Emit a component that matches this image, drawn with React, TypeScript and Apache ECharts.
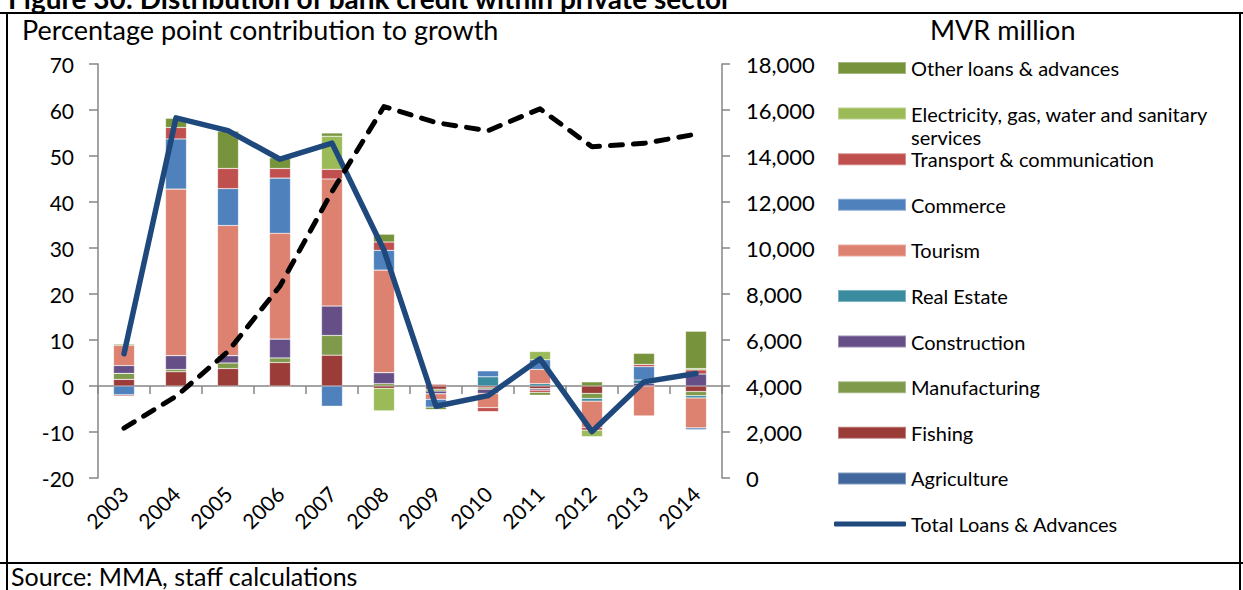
import React, { useEffect, useRef } from 'react';
import * as echarts from 'echarts';

const years = ['2003', '2004', '2005', '2006', '2007', '2008', '2009', '2010', '2011', '2012', '2013', '2014'];

// Percentage point contribution to growth (left axis)
const agriculture = [0, 0, 0, 0, 0, 0, 0, 0, 0, 0, 0, 0];
const fishing = [1.45, 3.1, 3.8, 5.1, 6.7, -0.5, -0.7, -0.4, -0.6, -1.6, 0, -1.2];
const manufacturing = [1.3, 0.5, 1.2, 1.0, 4.3, 0.5, -0.4, -0.3, 0, -1.1, 0, -0.9];
const construction = [1.7, 3.0, 1.6, 4.1, 6.4, 2.4, -0.6, -0.9, -0.3, 0, 0.6, 2.6];
const realEstate = [0, 0, 0, 0, 0, 0, 0, 2.0, 0.5, -0.6, 0.7, -0.5];
const tourism = [4.35, 36.2, 28.3, 23.0, 27.6, 22.3, -1.2, -3.1, 3.1, -5.7, -6.5, -6.5];
const commerce = [-1.9, 10.9, 8.0, 12.0, -4.4, 4.3, -1.7, 1.3, 2.1, 0, 2.9, -0.4];
const transport = [-0.3, 2.5, 4.4, 2.1, 2.1, 1.8, 0.4, -0.9, -0.5, -0.6, 0.5, 0.9];
const electricity = [0, 0, 0, 0, 7.2, -4.9, 0, 0, 1.8, -1.4, 0, 0.3];
const otherLoans = [0.3, 2.0, 8.1, 2.3, 0.7, 1.7, -0.5, 0, -0.6, 0.9, 2.4, 8.1];
const totalGrowth = [7.0, 58.3, 55.5, 49.3, 52.8, 29.5, -4.4, -2.1, 5.9, -9.9, 0.9, 2.7];

// Total loans & advances level, MVR million (right axis)
const totalLevel = [2170, 3550, 5500, 8350, 12450, 16150, 15450, 15100, 16050, 14400, 14550, 14950];

const leftMin = -20;
const leftMax = 70;
const leftStep = 10;
const rightMin = 0;
const rightMax = 18000;
const rightStep = 2000;

const barSeries = [
  { name: 'Agriculture', data: agriculture, color: '#41679D' },
  { name: 'Fishing', data: fishing, color: '#9B3C39' },
  { name: 'Manufacturing', data: manufacturing, color: '#7E9A4A' },
  { name: 'Construction', data: construction, color: '#664F87' },
  { name: 'Real Estate', data: realEstate, color: '#3A8AA0' },
  { name: 'Tourism', data: tourism, color: '#DD8170' },
  { name: 'Commerce', data: commerce, color: '#4F81BD' },
  { name: 'Transport & communication', data: transport, color: '#C0504D' },
  { name: 'Electricity, gas, water and sanitary services', data: electricity, color: '#9BBB59' },
  { name: 'Other loans & advances', data: otherLoans, color: '#77933C' },
];

const TOTAL_NAME = 'Total Loans & Advances';
const legendOrder = [
  'Other loans & advances',
  'Electricity, gas, water and sanitary services',
  'Transport & communication',
  'Commerce',
  'Tourism',
  'Real Estate',
  'Construction',
  'Manufacturing',
  'Fishing',
  'Agriculture',
  TOTAL_NAME,
];

const FONT = 'Lato';

export default function App() {
  const ref = useRef<HTMLDivElement>(null);

  useEffect(() => {
    if (!ref.current) return;
    const chart = echarts.init(ref.current, undefined, { renderer: 'svg' });

    const elecLine = 23;
    const legends = legendOrder.map((name, i) => {
      const centerY = 68 + i * 45.6;
      const isTotal = name === TOTAL_NAME;
      const isElec = name.startsWith('Electricity');
      return {
        show: true,
        selectedMode: false,
        orient: 'vertical',
        left: isTotal ? 834 : 837,
        top: isElec ? centerY - elecLine * 1.5 : centerY - 10,
        padding: 0,
        itemWidth: isTotal ? 72 : 68,
        itemHeight: isTotal ? 5 : 12,
        icon: isTotal ? 'roundRect' : 'rect',
        data: [name],
        formatter: isElec ? () => ' \nElectricity, gas, water and sanitary\nservices' : undefined,
        textStyle: isElec
          ? { fontFamily: FONT, fontSize: 20, color: '#000', lineHeight: elecLine }
          : { fontFamily: FONT, fontSize: 20, color: '#000', lineHeight: 20 },
      };
    });

    const option: any = {
      animation: false,
      backgroundColor: '#fff',
      textStyle: { fontFamily: FONT },
      grid: { left: 98, right: 1243 - 722, top: 64, bottom: 590 - 478, containLabel: false },
      legend: legends,
      xAxis: [
        {
          type: 'category',
          data: years,
          boundaryGap: true,
          axisLine: { show: true, onZero: true, onZeroAxisIndex: 0, lineStyle: { color: '#868686', width: 1.5 } },
          axisTick: { show: true, inside: false, length: 8, lineStyle: { color: '#868686', width: 1.5 } },
          axisLabel: { show: false },
          splitLine: { show: false },
        },
        {
          type: 'category',
          data: years,
          position: 'bottom',
          boundaryGap: true,
          axisLine: { show: false, onZero: false },
          axisTick: { show: false },
          axisLabel: { show: true, rotate: 45, margin: 12, fontSize: 21, color: '#000', fontFamily: FONT },
          splitLine: { show: false },
        },
      ],
      yAxis: [
        {
          type: 'value',
          position: 'left',
          min: leftMin,
          max: leftMax,
          interval: leftStep,
          axisLine: { show: true, lineStyle: { color: '#868686', width: 1.5 } },
          axisTick: { show: true, inside: false, length: 9, lineStyle: { color: '#868686', width: 1.5 } },
          axisLabel: { fontSize: 21, color: '#000', margin: 24, fontFamily: FONT },
          splitLine: { show: false },
        },
        {
          type: 'value',
          position: 'right',
          min: rightMin,
          max: rightMax,
          interval: rightStep,
          axisLine: { show: true, lineStyle: { color: '#868686', width: 1.5 } },
          axisTick: { show: true, inside: false, length: 8, lineStyle: { color: '#868686', width: 1.5 } },
          axisLabel: {
            fontSize: 22,
            color: '#000',
            margin: 24,
            fontFamily: FONT,
            formatter: (v: number) => v.toLocaleString('en-US'),
          },
          splitLine: { show: false },
        },
      ],
      series: [
        ...barSeries.map((s) => ({
          name: s.name,
          type: 'bar',
          stack: 'contrib',
          xAxisIndex: 0,
          yAxisIndex: 0,
          barWidth: 21,
          data: s.data,
          color: s.color,
          itemStyle: { color: s.color, borderColor: 'rgba(255,255,255,0.35)', borderWidth: 0.6 },
        })),
        {
          name: TOTAL_NAME,
          type: 'line',
          xAxisIndex: 0,
          yAxisIndex: 0,
          data: totalGrowth,
          color: '#1F497D',
          symbol: 'none',
          lineStyle: { color: '#1F497D', width: 5.5, cap: 'round', join: 'round' },
          z: 5,
        },
        {
          name: 'Total Loans & Advances (MVR million)',
          type: 'line',
          xAxisIndex: 0,
          yAxisIndex: 1,
          data: totalLevel,
          color: '#000',
          symbol: 'none',
          lineStyle: { color: '#000', width: 5, type: [12, 11], cap: 'round', join: 'round' },
          z: 6,
        },
      ],
      graphic: [
        {
          type: 'text',
          x: 8,
          y: 12,
          style: {
            text: 'Figure 30: Distribution of bank credit within private sector',
            font: `bold 28px ${FONT}`,
            fill: '#000',
            verticalAlign: 'bottom',
          },
        },
        {
          type: 'text',
          x: 22,
          y: 29,
          style: { text: 'Percentage point contribution to growth', font: `27px ${FONT}`, fill: '#000', verticalAlign: 'middle' },
        },
        {
          type: 'text',
          x: 930,
          y: 29,
          style: { text: 'MVR million', font: `27px ${FONT}`, fill: '#000', verticalAlign: 'middle' },
        },
        {
          type: 'text',
          x: 11,
          y: 576,
          style: { text: 'Source: MMA, staff calculations', font: `25px ${FONT}`, fill: '#000', verticalAlign: 'middle' },
        },
        { type: 'line', shape: { x1: 0, y1: 13, x2: 1243, y2: 13 }, style: { stroke: '#000', lineWidth: 2 } },
        { type: 'line', shape: { x1: 0, y1: 563, x2: 1243, y2: 563 }, style: { stroke: '#000', lineWidth: 2 } },
        { type: 'line', shape: { x1: 7, y1: 13, x2: 7, y2: 590 }, style: { stroke: '#000', lineWidth: 2 } },
        { type: 'line', shape: { x1: 1240, y1: 13, x2: 1240, y2: 590 }, style: { stroke: '#000', lineWidth: 2 } },
      ],
    };

    chart.setOption(option);
    return () => chart.dispose();
  }, []);

  return <div ref={ref} style={{ position: 'fixed', left: 0, top: 0, width: 1243, height: 590 }} />;
}
